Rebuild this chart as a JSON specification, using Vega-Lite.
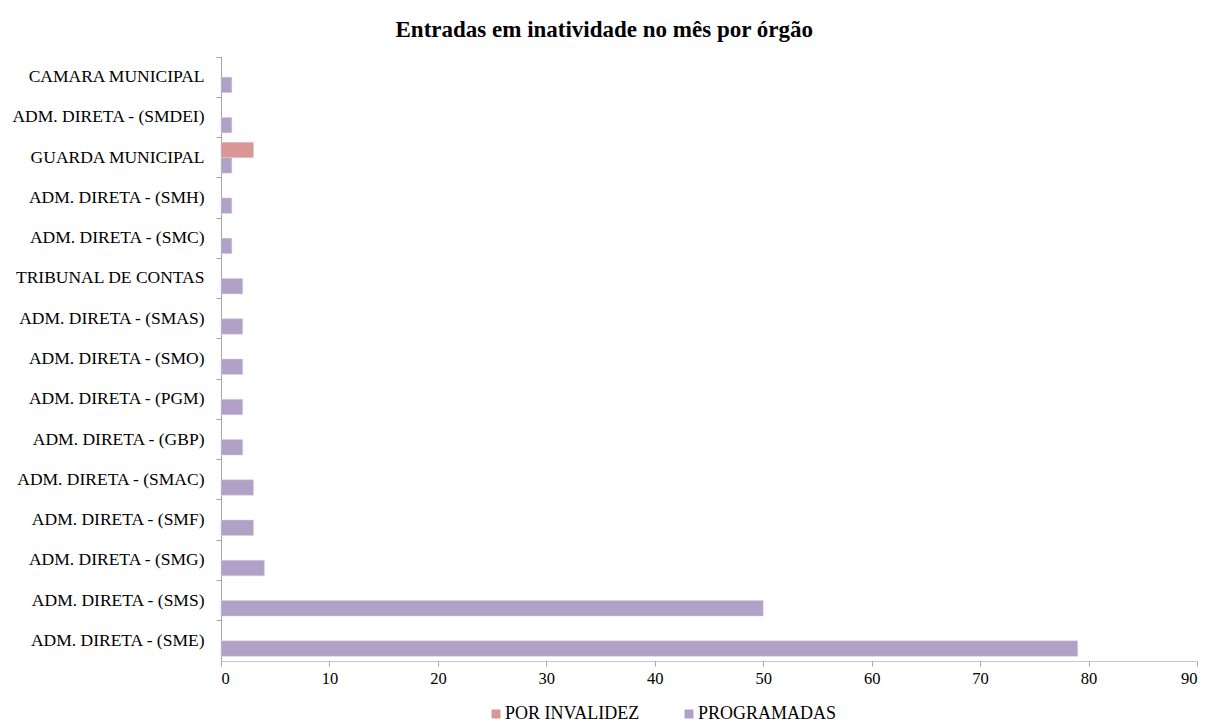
{
  "$schema": "https://vega.github.io/schema/vega-lite/v6.json",
  "width": 976,
  "height": 604,
  "autosize": "none",
  "padding": {"left": 221, "top": 57, "right": 12, "bottom": 63},
  "background": "white",
  "title": {
    "text": "Entradas em inatividade no mês por órgão",
    "font": "Liberation Serif",
    "fontSize": 23,
    "fontWeight": "bold",
    "color": "#000000",
    "anchor": "middle",
    "frame": "bounds",
    "offset": 6
  },
  "data": {
    "values": [
      {"orgao": "CAMARA MUNICIPAL", "serie": "PROGRAMADAS", "valor": 1},
      {"orgao": "ADM. DIRETA - (SMDEI)", "serie": "PROGRAMADAS", "valor": 1},
      {"orgao": "GUARDA MUNICIPAL", "serie": "POR INVALIDEZ", "valor": 3},
      {"orgao": "GUARDA MUNICIPAL", "serie": "PROGRAMADAS", "valor": 1},
      {"orgao": "ADM. DIRETA - (SMH)", "serie": "PROGRAMADAS", "valor": 1},
      {"orgao": "ADM. DIRETA - (SMC)", "serie": "PROGRAMADAS", "valor": 1},
      {"orgao": "TRIBUNAL DE CONTAS", "serie": "PROGRAMADAS", "valor": 2},
      {"orgao": "ADM. DIRETA - (SMAS)", "serie": "PROGRAMADAS", "valor": 2},
      {"orgao": "ADM. DIRETA - (SMO)", "serie": "PROGRAMADAS", "valor": 2},
      {"orgao": "ADM. DIRETA - (PGM)", "serie": "PROGRAMADAS", "valor": 2},
      {"orgao": "ADM. DIRETA - (GBP)", "serie": "PROGRAMADAS", "valor": 2},
      {"orgao": "ADM. DIRETA - (SMAC)", "serie": "PROGRAMADAS", "valor": 3},
      {"orgao": "ADM. DIRETA - (SMF)", "serie": "PROGRAMADAS", "valor": 3},
      {"orgao": "ADM. DIRETA - (SMG)", "serie": "PROGRAMADAS", "valor": 4},
      {"orgao": "ADM. DIRETA - (SMS)", "serie": "PROGRAMADAS", "valor": 50},
      {"orgao": "ADM. DIRETA - (SME)", "serie": "PROGRAMADAS", "valor": 79}
    ]
  },
  "config": {
    "view": {"stroke": null},
    "font": "Liberation Serif"
  },
  "mark": {"type": "bar", "stroke": "#d8d0e4", "strokeWidth": 0.5},
  "encoding": {
    "y": {
      "field": "orgao",
      "type": "nominal",
      "sort": null,
      "scale": {"paddingInner": 0, "paddingOuter": 0},
      "axis": {
        "title": null,
        "bandPosition": 0,
        "tickExtra": true,
        "domainColor": "#a6a6a6",
        "tickColor": "#a6a6a6",
        "tickSize": 5,
        "labelFont": "Liberation Serif",
        "labelFontSize": 17.5,
        "labelColor": "#000000",
        "labelPadding": 12,
        "labelLimit": 300
      }
    },
    "yOffset": {
      "field": "serie",
      "type": "nominal",
      "sort": ["POR INVALIDEZ", "PROGRAMADAS"],
      "scale": {"domain": ["POR INVALIDEZ", "PROGRAMADAS"], "paddingInner": 0, "paddingOuter": 0.3}
    },
    "x": {
      "field": "valor",
      "type": "quantitative",
      "scale": {"domain": [0, 90], "nice": false},
      "axis": {
        "title": null,
        "values": [0, 10, 20, 30, 40, 50, 60, 70, 80, 90],
        "grid": false,
        "domainColor": "#8c8c8c",
        "domainDash": [1, 1],
        "tickColor": "#a6a6a6",
        "tickSize": 5,
        "labelFont": "Liberation Serif",
        "labelFontSize": 16.5,
        "labelColor": "#000000",
        "labelPadding": 4
      }
    },
    "color": {
      "field": "serie",
      "type": "nominal",
      "scale": {"domain": ["POR INVALIDEZ", "PROGRAMADAS"], "range": ["#d99694", "#b2a1c7"]},
      "legend": {
        "title": null,
        "orient": "none",
        "direction": "horizontal",
        "legendX": 266,
        "legendY": 648,
        "symbolType": "square",
        "symbolSize": 81,
        "symbolStrokeWidth": 0,
        "labelFont": "Liberation Serif",
        "labelFontSize": 18,
        "labelColor": "#000000",
        "labelOffset": 0,
        "columnPadding": 40
      }
    }
  }
}
